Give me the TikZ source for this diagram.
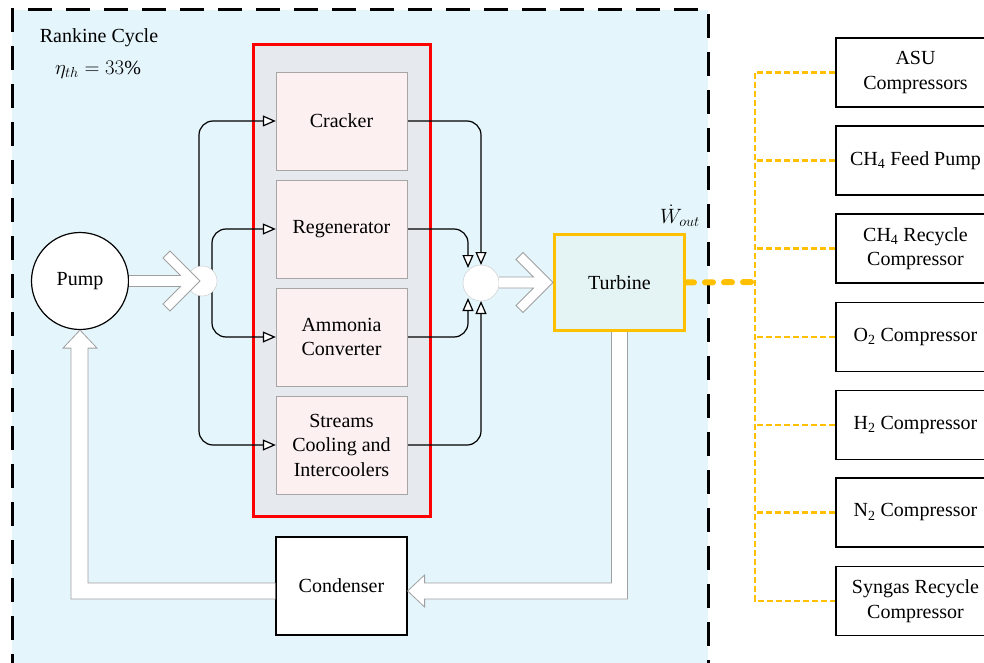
\documentclass[tikz,border=0pt]{standalone}
\usepackage{fontspec}
\setmainfont{Liberation Serif}
\usetikzlibrary{arrows.meta,calc}
\pgfdeclarelayer{back}
\pgfdeclarelayer{mid}
\pgfsetlayers{back,mid,main}
\definecolor{bgblue}{HTML}{E4F5FC}
\definecolor{grpgray}{HTML}{E6E9EE}
\definecolor{boxpink}{HTML}{FCF0F0}
\definecolor{turbfill}{HTML}{E4F4F4}
\definecolor{gold}{HTML}{FFC000}
\definecolor{arrgray}{HTML}{A0A0A0}
\tikzset{
  unitbox/.style={draw=gray!70, fill=boxpink, minimum width=131pt, minimum height=98pt, align=center, inner sep=0pt},
  plainbox/.style={draw=black, line width=1.2pt, fill=white, minimum width=131pt, minimum height=98pt, align=center, inner sep=0pt},
  rbox/.style={draw=black, line width=1.2pt, fill=white, minimum width=159pt, minimum height=69pt, align=center, inner sep=0pt},
  flow/.style={draw=black, line width=1.2pt, rounded corners=14pt, -{Triangle[length=13pt,width=11pt,fill=white]}},
  hollow/.style={fill=white, draw=arrgray, line width=0.8pt, line join=miter},
  ydash/.style={draw=gold, line width=2.5pt, dash pattern=on 6pt off 3pt},
  ythick/.style={draw=gold, line width=6pt, line cap=round, dash pattern=on 8pt off 11pt},
  junction/.style={circle, draw=gray!45, fill=white, inner sep=0pt}
}
\newcommand\chevr[2]{%
  \path[hollow] let \p1=(#1), \p2=(#2) in
  (\x1,\y2+5.5pt) -- (\x2-19.5pt,\y2+5.5pt) -- (\x2-37pt,\y2+23pt) -- (\x2-30pt,\y2+30pt)
  -- (\x2,\y2) -- (\x2-30pt,\y2-30pt) -- (\x2-37pt,\y2-23pt) -- (\x2-19.5pt,\y2-5.5pt) -- (\x1,\y2-5.5pt);}
\begin{document}
\begin{tikzpicture}[x=1pt, y=-1pt, font=\fontsize{20}{24.5}\selectfont]
\useasboundingbox (0,0) rectangle (984,663);
\clip (0,0) rectangle (984,663);
% background container
\begin{pgfonlayer}{back}
\node[draw=black, fill=bgblue, line width=3pt, dash pattern=on 24pt off 14pt,
      minimum width=696pt, minimum height=700pt, inner sep=0pt] (bg) at (360,360) {};
\node[draw=red, line width=3pt, fill=grpgray, minimum width=177pt, minimum height=471pt, inner sep=0pt] (grp) at (341.5,280.5) {};
\end{pgfonlayer}
% labels
\node (rk) at (99,38) {Rankine Cycle};
\node (eta) at (98,70) {$\eta_{th} = 33\%$};
\node (wout) at (680,216) {$\dot{W}_{out}$};
% unit boxes
\node[unitbox] (crk) at (341.5,121) {Cracker};
\node[unitbox] (regen) at (341.5,229) {Regenerator};
\node[unitbox] (amm) at (341.5,337) {Ammonia\\Converter};
\node[unitbox] (strm) at (341.5,445) {Streams\\Cooling and\\Intercoolers};
% main equipment
\node[circle, draw=black, line width=1.2pt, fill=white, minimum size=97pt, inner sep=0pt] (pump) at (80,281) {Pump};
\node[junction, minimum size=30pt] (split) at (202,281) {};
\node[junction, minimum size=36pt] (mix) at (481,283) {};
\node[draw=gold, line width=3pt, fill=turbfill, minimum width=130pt, minimum height=96pt, inner sep=0pt] (turb) at (619.5,282.5) {Turbine};
\node[plainbox] (cond) at (341.5,586) {Condenser};
% thin connectors
\coordinate (oL) at (199,281);
\coordinate (iL) at (212,281);
\coordinate (oRt) at (481,265);
\coordinate (iRt) at (468,268);
\coordinate (oRb) at (481,301);
\coordinate (iRb) at (468,298);
\begin{pgfonlayer}{mid}
\draw[flow] (oL) |- (crk.west);
\draw[flow] (oL) |- (strm.west);
\draw[flow] (iL) |- (regen.west);
\draw[flow] (iL) |- (amm.west);
\draw[flow] (crk.east) -| (oRt);
\draw[flow] (regen.east) -| (iRt);
\draw[flow] (amm.east) -| (iRb);
\draw[flow] (strm.east) -| (oRb);
\end{pgfonlayer}
% hollow arrows
\chevr{pump.east}{$(split.center)+(-2,0)$}
\chevr{mix.east}{turb.west}
\path[hollow] ($(turb.south)+(-8,0)$) |- ($(cond.east)+(17,-3)$) -- ++(0,-8) -- ($(cond.east)+(0,5)$)
  -- ($(cond.east)+(17,21)$) -- ++(0,-8) -| ($(turb.south)+(8,0)$);
\path[hollow] ($(cond.west)+(0,-3)$) -| ($(pump.south)+(8,18)$) -- ++(9,0) -- (pump.south)
  -- ++(-17,18) -- ++(8,0) |- ($(cond.west)+(0,13)$);
% right side consumers
\node[rbox] (asu) at (915.5,72.5) {ASU\\Compressors};
\node[rbox] (feed) at (915.5,160.5) {CH\textsubscript{4} Feed Pump};
\node[rbox] (rec) at (915.5,248.5) {CH\textsubscript{4} Recycle\\Compressor};
\node[rbox] (oxy) at (915.5,337) {O\textsubscript{2} Compressor};
\node[rbox] (hyd) at (915.5,425) {H\textsubscript{2} Compressor};
\node[rbox] (nit) at (915.5,512.5) {N\textsubscript{2} Compressor};
\node[rbox] (syn) at (915.5,601) {Syngas Recycle\\Compressor};
\coordinate (bj) at (755,282);
\draw[ydash] (asu.west) -| (bj) |- (syn.west);
\foreach \b in {feed,rec,oxy,hyd,nit} \draw[ydash] (\b.west) -- (\b.west -| bj);
\draw[ythick] (turb.east) -- (bj);
\end{tikzpicture}
\end{document}
